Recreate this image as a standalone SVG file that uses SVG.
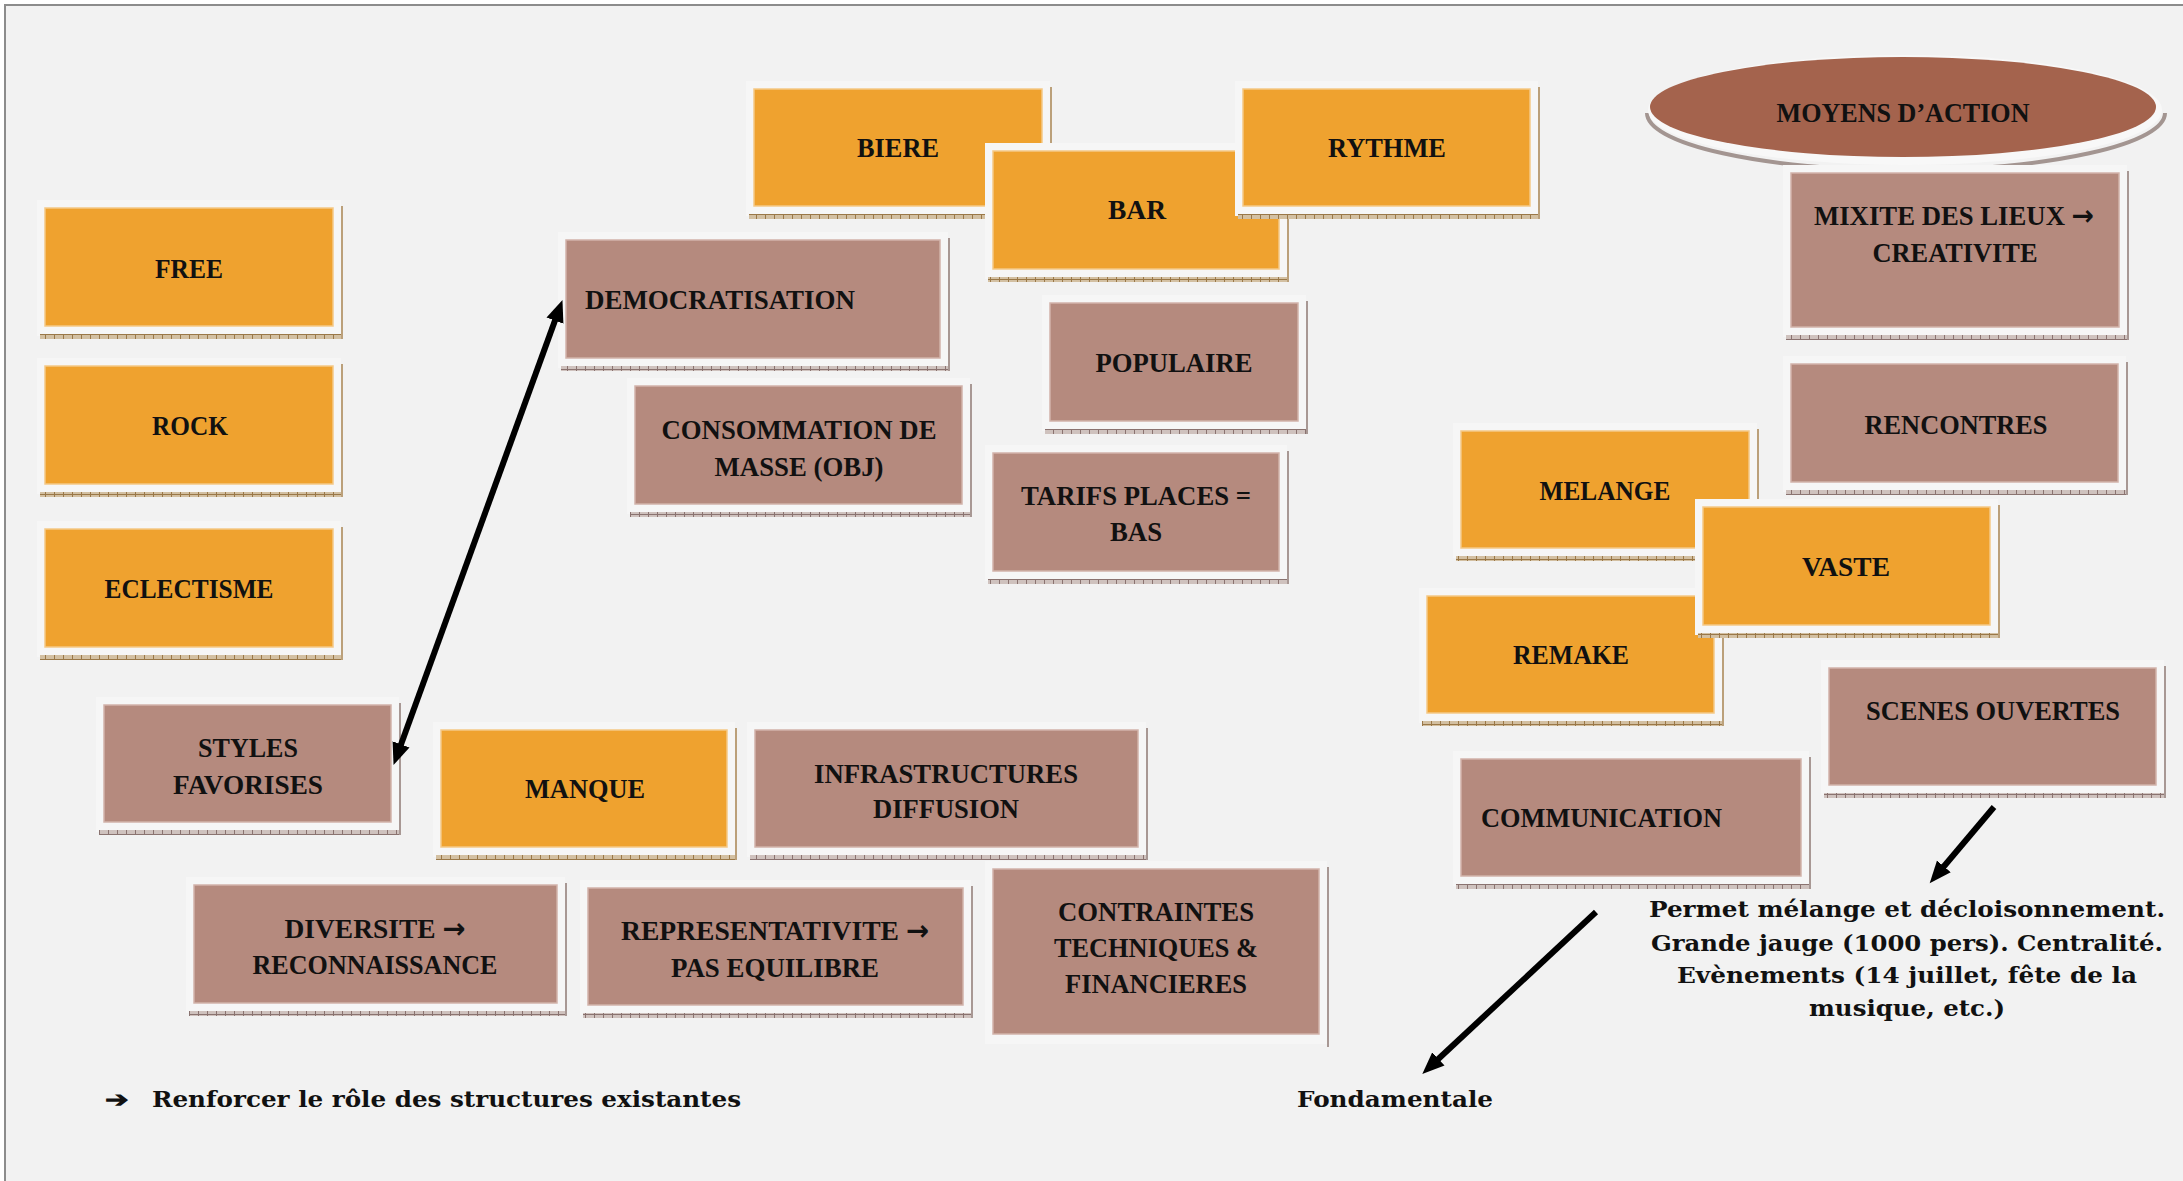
<svg xmlns="http://www.w3.org/2000/svg" width="2183" height="1181" viewBox="0 0 2183 1181">
<style>
.bg{fill:#f2f2f2}
.fr{fill:#f6f6f6}
.fo{fill:#efa22f;stroke:#f5c987;stroke-width:1.5}
.fm{fill:#b58a7e;stroke:#d2b3aa;stroke-width:1.5}
.so{fill:url(#ho)}
.sm{fill:url(#hm)}
.vo{fill:#bba07a}
.vm{fill:#a89894}
.t{font-family:"Liberation Serif","Times New Roman",serif;font-weight:bold;font-size:28px;fill:#111;text-anchor:middle}
.tl{text-anchor:start}
.a{font-family:"DejaVu Sans",sans-serif;font-weight:bold}
.n{font-family:"DejaVu Serif","Liberation Serif",serif;font-weight:bold;font-size:22px;fill:#111}
.c{text-anchor:middle}
.ar{fill:none;stroke:#000;stroke-width:6}
</style>
<defs>
<pattern id="ho" width="9" height="5" patternUnits="userSpaceOnUse"><rect width="9" height="5" fill="#d3c0a2"/><rect y="4" width="9" height="1" fill="#9a7848"/><rect width="1" height="5" fill="#9a7848"/></pattern>
<pattern id="hm" width="9" height="5" patternUnits="userSpaceOnUse"><rect width="9" height="5" fill="#cfc2be"/><rect y="4" width="9" height="1" fill="#8a7370"/><rect width="1" height="5" fill="#8a7370"/></pattern>
<marker id="ah" markerUnits="userSpaceOnUse" markerWidth="24" markerHeight="20" refX="6" refY="10" orient="auto-start-reverse" viewBox="0 0 24 20"><path d="M0,1 L22,10 L0,19 z" fill="#000"/></marker>
</defs>
<rect width="2183" height="1181" fill="#ffffff"/>
<rect x="4" y="4" width="2179" height="1177" class="bg"/>
<rect x="4" y="4" width="2179" height="2" fill="#8c8c8c"/>
<rect x="4" y="4" width="2" height="1177" fill="#8c8c8c"/>

<g id="free"><rect class="fr" x="37" y="200" width="304" height="136"/><rect class="so" x="40" y="334" width="303" height="5"/><rect class="vo" x="341" y="206" width="2" height="133"/><rect class="fo" x="45" y="208" width="288" height="118"/><text class="t" x="189" y="278" textLength="68" lengthAdjust="spacingAndGlyphs">FREE</text></g>
<g id="rock"><rect class="fr" x="37" y="358" width="304" height="136"/><rect class="so" x="40" y="492" width="303" height="5"/><rect class="vo" x="341" y="364" width="2" height="133"/><rect class="fo" x="45" y="366" width="288" height="118"/><text class="t" x="190" y="435" textLength="76" lengthAdjust="spacingAndGlyphs">ROCK</text></g>
<g id="eclectisme"><rect class="fr" x="37" y="521" width="304" height="136"/><rect class="so" x="40" y="655" width="303" height="5"/><rect class="vo" x="341" y="527" width="2" height="133"/><rect class="fo" x="45" y="529" width="288" height="118"/><text class="t" x="189" y="598" textLength="169" lengthAdjust="spacingAndGlyphs">ECLECTISME</text></g>

<g id="biere"><rect class="fr" x="746" y="81" width="304" height="135"/><rect class="so" x="749" y="214" width="303" height="5"/><rect class="vo" x="1050" y="87" width="2" height="132"/><rect class="fo" x="754" y="89" width="288" height="117"/><text class="t" x="898" y="157" textLength="82" lengthAdjust="spacingAndGlyphs">BIERE</text></g>
<g id="bar"><rect class="fr" x="985" y="143" width="302" height="136"/><rect class="so" x="988" y="277" width="301" height="5"/><rect class="vo" x="1287" y="149" width="2" height="133"/><rect class="fo" x="993" y="151" width="286" height="118"/><text class="t" x="1137" y="219" textLength="58" lengthAdjust="spacingAndGlyphs">BAR</text></g>
<g id="rythme"><rect class="fr" x="1235" y="81" width="303" height="135"/><rect class="so" x="1238" y="214" width="302" height="5"/><rect class="vo" x="1538" y="87" width="2" height="132"/><rect class="fo" x="1243" y="89" width="287" height="117"/><text class="t" x="1387" y="157" textLength="118" lengthAdjust="spacingAndGlyphs">RYTHME</text></g>

<g id="democratisation"><rect class="fr" x="558" y="232" width="390" height="136"/><rect class="sm" x="561" y="366" width="389" height="5"/><rect class="vm" x="948" y="238" width="2" height="133"/><rect class="fm" x="566" y="240" width="374" height="118"/><text class="t tl" x="585" y="309" textLength="270" lengthAdjust="spacingAndGlyphs">DEMOCRATISATION</text></g>
<g id="consommation"><rect class="fr" x="627" y="378" width="343" height="136"/><rect class="sm" x="630" y="512" width="342" height="5"/><rect class="vm" x="970" y="384" width="2" height="133"/><rect class="fm" x="635" y="386" width="327" height="118"/><text class="t" x="799" y="439" textLength="275" lengthAdjust="spacingAndGlyphs">CONSOMMATION DE</text><text class="t" x="799" y="476" textLength="169" lengthAdjust="spacingAndGlyphs">MASSE (OBJ)</text></g>
<g id="populaire"><rect class="fr" x="1042" y="295" width="264" height="136"/><rect class="sm" x="1045" y="429" width="263" height="5"/><rect class="vm" x="1306" y="301" width="2" height="133"/><rect class="fm" x="1050" y="303" width="248" height="118"/><text class="t" x="1174" y="372" textLength="157" lengthAdjust="spacingAndGlyphs">POPULAIRE</text></g>
<g id="tarifs"><rect class="fr" x="985" y="445" width="302" height="136"/><rect class="sm" x="988" y="579" width="301" height="5"/><rect class="vm" x="1287" y="451" width="2" height="133"/><rect class="fm" x="993" y="453" width="286" height="118"/><text class="t" x="1136" y="505" textLength="230" lengthAdjust="spacingAndGlyphs">TARIFS PLACES =</text><text class="t" x="1136" y="541" textLength="52" lengthAdjust="spacingAndGlyphs">BAS</text></g>

<g id="styles"><rect class="fr" x="96" y="697" width="303" height="135"/><rect class="sm" x="99" y="830" width="302" height="5"/><rect class="vm" x="399" y="703" width="2" height="132"/><rect class="fm" x="104" y="705" width="287" height="117"/><text class="t" x="248" y="757" textLength="100" lengthAdjust="spacingAndGlyphs">STYLES</text><text class="t" x="248" y="794" textLength="150" lengthAdjust="spacingAndGlyphs">FAVORISES</text></g>
<g id="manque"><rect class="fr" x="433" y="722" width="302" height="135"/><rect class="so" x="436" y="855" width="301" height="5"/><rect class="vo" x="735" y="728" width="2" height="132"/><rect class="fo" x="441" y="730" width="286" height="117"/><text class="t" x="585" y="798" textLength="120" lengthAdjust="spacingAndGlyphs">MANQUE</text></g>
<g id="infrastructures"><rect class="fr" x="747" y="722" width="399" height="135"/><rect class="sm" x="750" y="855" width="398" height="5"/><rect class="vm" x="1146" y="728" width="2" height="132"/><rect class="fm" x="755" y="730" width="383" height="117"/><text class="t" x="946" y="783" textLength="264" lengthAdjust="spacingAndGlyphs">INFRASTRUCTURES</text><text class="t" x="946" y="818" textLength="146" lengthAdjust="spacingAndGlyphs">DIFFUSION</text></g>
<g id="diversite"><rect class="fr" x="186" y="877" width="379" height="136"/><rect class="sm" x="189" y="1011" width="378" height="5"/><rect class="vm" x="565" y="883" width="2" height="133"/><rect class="fm" x="194" y="885" width="363" height="118"/><text class="t" x="375" y="938" textLength="181" lengthAdjust="spacingAndGlyphs">DIVERSITE <tspan class="a">→</tspan></text><text class="t" x="375" y="974" textLength="245" lengthAdjust="spacingAndGlyphs">RECONNAISSANCE</text></g>
<g id="representativite"><rect class="fr" x="580" y="880" width="391" height="135"/><rect class="sm" x="583" y="1013" width="390" height="5"/><rect class="vm" x="971" y="886" width="2" height="132"/><rect class="fm" x="588" y="888" width="375" height="117"/><text class="t" x="775" y="940" textLength="308" lengthAdjust="spacingAndGlyphs">REPRESENTATIVITE <tspan class="a">→</tspan></text><text class="t" x="775" y="977" textLength="208" lengthAdjust="spacingAndGlyphs">PAS EQUILIBRE</text></g>
<g id="contraintes"><rect class="fr" x="985" y="861" width="342" height="183"/><rect class="vm" x="1327" y="867" width="2" height="180"/><rect class="fm" x="993" y="869" width="326" height="165"/><text class="t" x="1156" y="921" textLength="196" lengthAdjust="spacingAndGlyphs">CONTRAINTES</text><text class="t" x="1156" y="957" textLength="204" lengthAdjust="spacingAndGlyphs">TECHNIQUES &amp;</text><text class="t" x="1156" y="993" textLength="182" lengthAdjust="spacingAndGlyphs">FINANCIERES</text></g>

<g id="moyens"><path d="M1647,113 A259,57 0 0 0 2165,113" fill="none" stroke="#a39591" stroke-width="4"/><ellipse cx="1905" cy="110" rx="257" ry="55" fill="#f8f8f8"/><ellipse cx="1903" cy="107" rx="253" ry="50" fill="#a4634d"/><text class="t" x="1903" y="122" font-size="27" textLength="253" lengthAdjust="spacingAndGlyphs">MOYENS D’ACTION</text></g>
<g id="mixite"><rect class="fr" x="1783" y="165" width="344" height="172"/><rect class="sm" x="1786" y="335" width="343" height="5"/><rect class="vm" x="2127" y="171" width="2" height="169"/><rect class="fm" x="1791" y="173" width="328" height="154"/><text class="t" x="1954" y="225" textLength="280" lengthAdjust="spacingAndGlyphs">MIXITE DES LIEUX <tspan class="a">→</tspan></text><text class="t" x="1955" y="262" textLength="165" lengthAdjust="spacingAndGlyphs">CREATIVITE</text></g>
<g id="rencontres"><rect class="fr" x="1783" y="356" width="343" height="136"/><rect class="sm" x="1786" y="490" width="342" height="5"/><rect class="vm" x="2126" y="362" width="2" height="133"/><rect class="fm" x="1791" y="364" width="327" height="118"/><text class="t" x="1956" y="434" textLength="183" lengthAdjust="spacingAndGlyphs">RENCONTRES</text></g>
<g id="melange"><rect class="fr" x="1453" y="423" width="304" height="135"/><rect class="so" x="1456" y="556" width="303" height="5"/><rect class="vo" x="1757" y="429" width="2" height="132"/><rect class="fo" x="1461" y="431" width="288" height="117"/><text class="t" x="1605" y="500" textLength="131" lengthAdjust="spacingAndGlyphs">MELANGE</text></g>
<g id="remake"><rect class="fr" x="1419" y="588" width="303" height="135"/><rect class="so" x="1422" y="721" width="302" height="5"/><rect class="vo" x="1722" y="594" width="2" height="132"/><rect class="fo" x="1427" y="596" width="287" height="117"/><text class="t" x="1571" y="664" textLength="116" lengthAdjust="spacingAndGlyphs">REMAKE</text></g>
<g id="vaste"><rect class="fr" x="1695" y="499" width="303" height="136"/><rect class="so" x="1698" y="633" width="302" height="5"/><rect class="vo" x="1998" y="505" width="2" height="133"/><rect class="fo" x="1703" y="507" width="287" height="118"/><text class="t" x="1846" y="576" textLength="88" lengthAdjust="spacingAndGlyphs">VASTE</text></g>
<g id="scenes"><rect class="fr" x="1821" y="660" width="343" height="135"/><rect class="sm" x="1824" y="793" width="342" height="5"/><rect class="vm" x="2164" y="666" width="2" height="132"/><rect class="fm" x="1829" y="668" width="327" height="117"/><text class="t" x="1993" y="720" textLength="254" lengthAdjust="spacingAndGlyphs">SCENES OUVERTES</text></g>
<g id="communication"><rect class="fr" x="1453" y="751" width="356" height="135"/><rect class="sm" x="1456" y="884" width="355" height="5"/><rect class="vm" x="1809" y="757" width="2" height="132"/><rect class="fm" x="1461" y="759" width="340" height="117"/><text class="t tl" x="1481" y="827" textLength="241" lengthAdjust="spacingAndGlyphs">COMMUNICATION</text></g>

<g id="notes">
<text class="n" x="105" y="1107" font-family="DejaVu Sans, sans-serif" textLength="23" lengthAdjust="spacingAndGlyphs">➔</text>
<text class="n" x="152" y="1107" textLength="589" lengthAdjust="spacingAndGlyphs">Renforcer le rôle des structures existantes</text>
<text class="n" x="1297" y="1107" textLength="196" lengthAdjust="spacingAndGlyphs">Fondamentale</text>
<text class="n c" x="1907" y="917" textLength="516" lengthAdjust="spacingAndGlyphs">Permet mélange et décloisonnement.</text>
<text class="n c" x="1907" y="951" textLength="512" lengthAdjust="spacingAndGlyphs">Grande jauge (1000 pers). Centralité.</text>
<text class="n c" x="1907" y="983" textLength="460" lengthAdjust="spacingAndGlyphs">Evènements (14 juillet, fête de la</text>
<text class="n c" x="1907" y="1016" textLength="196" lengthAdjust="spacingAndGlyphs">musique, etc.)</text>
</g>

<g id="connectors">
<line class="ar" x1="557" y1="315" x2="399" y2="750" marker-start="url(#ah)" marker-end="url(#ah)"/>
<line class="ar" x1="1994" y1="807" x2="1940" y2="871" marker-end="url(#ah)"/>
<line class="ar" x1="1596" y1="912" x2="1434" y2="1063" marker-end="url(#ah)"/>
</g>
</svg>
